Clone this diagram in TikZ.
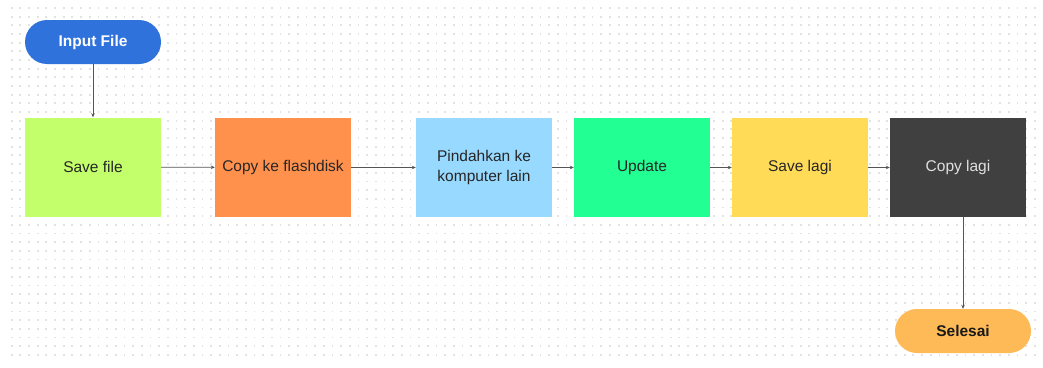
\documentclass[tikz,border=0pt]{standalone}
\usepackage{fontspec}
\setmainfont{Liberation Sans}
\usetikzlibrary{arrows.meta}
\definecolor{cblue}{HTML}{2F72DB}
\definecolor{clime}{HTML}{C2FF6B}
\definecolor{corange}{HTML}{FF914D}
\definecolor{csky}{HTML}{98D9FF}
\definecolor{cgreen}{HTML}{22FF93}
\definecolor{cyellow}{HTML}{FFDB58}
\definecolor{cdark}{HTML}{404040}
\definecolor{cpeach}{HTML}{FDBA57}
\definecolor{cdot}{HTML}{E2E2E2}
\definecolor{cline}{HTML}{555555}
\tikzset{
  box/.style={rectangle, minimum width=136pt, minimum height=99pt, inner sep=2pt, align=center, font=\fontsize{15.5}{20}\selectfont, text=black!85},
  pill/.style={rectangle, rounded corners=22pt, minimum width=136pt, minimum height=44pt, inner sep=0pt, font=\fontsize{15.5}{18}\selectfont\bfseries},
  conn/.style={draw=cline, line width=0.8pt, -{Stealth[length=4pt,width=3.5pt]}}
}
\begin{document}
\begin{tikzpicture}[x=1pt,y=-1pt]
\useasboundingbox (0,0) rectangle (1043,367);
\fill[white] (0,0) rectangle (1043,367);
\foreach \i in {0,...,118}{
  \foreach \j in {0,...,40}{
    \fill[cdot] ({11.7+8.67*\i-0.9},{8.0+8.67*\j-0.9}) rectangle ++(1.8,1.8);
  }
}
\node[pill, fill=cblue, text=white] (in) at (93,42) {Input File};
\node[box, fill=clime] (s1) at (93,167) {Save file};
\node[box, fill=corange] (s2) at (283,167.5) {Copy ke flashdisk};
\node[box, fill=csky] (s3) at (484,167.5) {Pindahkan ke\\komputer lain};
\node[box, fill=cgreen] (s4) at (642,167.5) {Update};
\node[box, fill=cyellow] (s5) at (800,167.5) {Save lagi};
\node[box, fill=cdark, text=white!88!black] (s6) at (958,167.5) {Copy lagi};
\node[pill, fill=cpeach, text=black!90] (out) at (963,331) {Selesai};
\coordinate (s6b) at (963,217);
\draw[conn] (in) -- (s1);
\draw[conn] (s1) -- (s2);
\draw[conn] (s2) -- (s3);
\draw[conn] (s3) -- (s4);
\draw[conn] (s4) -- (s5);
\draw[conn] (s5) -- (s6);
\draw[conn] (s6b) -- (out);
\end{tikzpicture}
\end{document}
